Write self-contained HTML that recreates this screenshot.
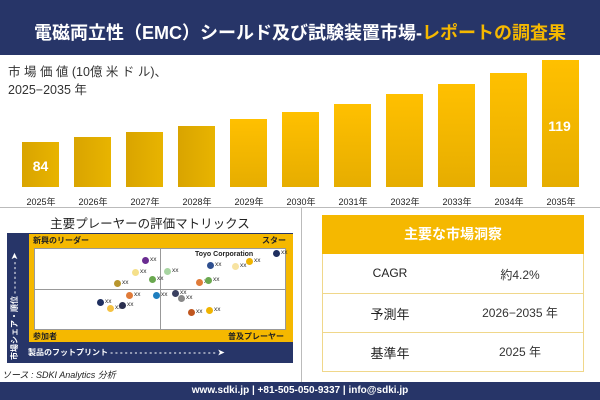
<!DOCTYPE html>
<html><head><meta charset="utf-8"><style>
*{margin:0;padding:0;box-sizing:border-box}
body{width:600px;height:400px;background:#fff;position:relative;overflow:hidden;font-family:"Liberation Sans","Noto Sans CJK JP",sans-serif}
.a{position:absolute}
.bar{position:absolute;width:37px;background:linear-gradient(90deg,#d9a400,#e8b400)}
.yl{position:absolute;top:195px;font-size:9px;width:52px;text-align:center;color:#222}
.xx{position:absolute;font-size:6.5px;color:#333}
.d{position:absolute;width:7px;height:7px;border-radius:50%}
</style></head><body>
<div class="a" style="left:0;top:0;width:600px;height:55px;background:#273568"></div>
<div class="a" style="left:0;top:19px;width:600px;text-align:center;font-size:18px;font-weight:bold;color:#fff;white-space:nowrap">電磁両立性（EMC）シールド及び試験装置市場-<span style="color:#f5b800">レポートの調査果</span></div>
<div class="a" style="left:8px;top:63px;font-size:12.5px;color:#333;line-height:18px">市 場 価 値 (10億 米 ド ル)、<br>2025−2035 年</div>
<div id="bars"></div>
<div class="a" style="left:0;top:207px;width:600px;height:1px;background:#bbb"></div>
<div class="a" style="left:301px;top:207px;width:1px;height:175px;background:#bbb"></div>
<div class="a" style="left:0;top:213px;width:300px;text-align:center;font-size:12.5px;color:#222">主要プレーヤーの評価マトリックス</div>
<div class="a" style="left:7px;top:233px;width:286px;height:130px;background:#273568"></div>
<div class="a" style="left:29px;top:234px;width:264px;height:108px;background:#f5b800"></div>
<div class="a" style="left:34px;top:248px;width:252px;height:82px;background:#fff;border:1px solid #999"></div>
<div class="a" style="left:160px;top:248px;width:1px;height:82px;background:#999"></div>
<div class="a" style="left:34px;top:289px;width:252px;height:1px;background:#999"></div>
<div class="a" style="left:33px;top:235px;font-size:8px;font-weight:bold;color:#222">新興のリーダー</div>
<div class="a" style="left:262px;top:235px;font-size:8px;font-weight:bold;color:#222">スター</div>
<div class="a" style="left:33px;top:331px;font-size:8px;font-weight:bold;color:#222">参加者</div>
<div class="a" style="left:228px;top:331px;font-size:8px;font-weight:bold;color:#222">普及プレーヤー</div>
<div class="a" style="left:28px;top:347px;font-size:8px;font-weight:bold;color:#fff;white-space:nowrap">製品のフットプリント - - - - - - - - - - - - - - - - - - - - - - ➤</div>
<div class="a" style="left:9px;top:360px;transform:rotate(-90deg);transform-origin:0 0;font-size:8px;font-weight:bold;color:#fff;white-space:nowrap">市場シェア・順位 - - - - - - - ➤</div>
<div class="a" style="left:195px;top:251px;font-size:7px;font-weight:bold;color:#222">Toyo Corporation</div>
<div id="dots"></div>
<div class="a" style="left:2px;top:368px;font-size:9px;font-style:italic;color:#222">ソース : SDKI Analytics 分析</div>
<div class="a" style="left:322px;top:215px;width:262px;height:157px;border:1px solid #f0d78a"></div>
<div class="a" style="left:322px;top:215px;width:262px;height:39px;background:#f5b800;color:#fff;font-size:14px;text-align:center;line-height:39px;font-weight:bold">主要な市場洞察</div>
<div class="a" style="left:322px;top:293px;width:262px;height:1px;background:#f0d78a"></div>
<div class="a" style="left:322px;top:332px;width:262px;height:1px;background:#f0d78a"></div>
<div class="a" style="left:340px;top:266px;width:100px;text-align:center;font-size:12px;color:#222">CAGR</div>
<div class="a" style="left:470px;top:266px;width:100px;text-align:center;font-size:12px;color:#333">約4.2%</div>
<div class="a" style="left:340px;top:304px;width:100px;text-align:center;font-size:13px;color:#222">予測年</div>
<div class="a" style="left:465px;top:304px;width:110px;text-align:center;font-size:12px;color:#333">2026−2035 年</div>
<div class="a" style="left:340px;top:343px;width:100px;text-align:center;font-size:13px;color:#222">基準年</div>
<div class="a" style="left:470px;top:343px;width:100px;text-align:center;font-size:12px;color:#333">2025 年</div>
<div class="a" style="left:0;top:382px;width:600px;height:18px;background:#273568;color:#fff;font-size:10px;text-align:center;line-height:18px;font-weight:bold">www.sdki.jp | +81-505-050-9337 | info@sdki.jp</div>
<script>
var tops=[142,137,132,126,119,112,104,94,84,73,60],h='';
for(var i=0;i<11;i++){var x=22+i*52;h+='<div class="bar" style="left:'+x+'px;top:'+tops[i]+'px;height:'+(187-tops[i])+'px'+(i>3?';background:linear-gradient(180deg,#ffc000,#e6ad00)':'')+'"></div><div class="yl" style="left:'+(x-7)+'px">'+(2025+i)+'年</div>';}
h+='<div class="a" style="left:22px;top:158px;width:37px;text-align:center;color:#fff;font-weight:bold;font-size:14px">84</div><div class="a" style="left:541px;top:118px;width:37px;text-align:center;color:#fff;font-weight:bold;font-size:14px">119</div>';
document.getElementById('bars').innerHTML=h;
var D=[[145,260,'#6a2c91'],[135,272,'#f5e08a'],[152,279,'#6aa84f'],[117,283,'#b8962e'],[167,271,'#a8d5a2'],[210,265,'#2f4f8f'],[235,266,'#f7e3a1'],[249,261,'#f0b400'],[276,253,'#1f2f5f'],[199,282,'#e07b39'],[208,280,'#6aa84f'],[129,295,'#e07b39'],[156,295,'#1f7fbf'],[100,302,'#1f2f5f'],[110,308,'#f5c242'],[122,305,'#2a2f4f'],[175,293,'#3a4060'],[181,298,'#888'],[191,312,'#c0561f'],[209,310,'#f0b400']],g='';
D.forEach(function(d){g+='<div class="d" style="left:'+(d[0]-3)+'px;top:'+(d[1]-3)+'px;background:'+d[2]+'"></div><div class="xx" style="left:'+(d[0]+5)+'px;top:'+(d[1]-4)+'px">xx</div>';});
document.getElementById('dots').innerHTML=g;
</script>
</body></html>
